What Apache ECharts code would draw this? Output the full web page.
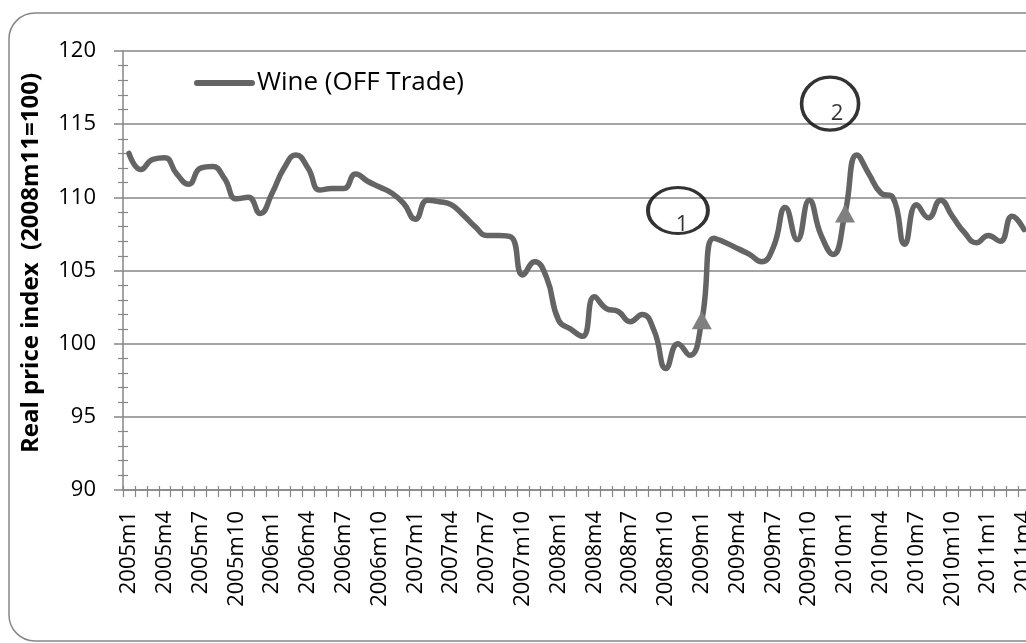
<!DOCTYPE html>
<html>
<head>
<meta charset="utf-8">
<script src="https://cdn.jsdelivr.net/npm/echarts@6/dist/echarts.min.js"></script>
<style>
html,body{margin:0;padding:0;background:#fff;}
#chart{width:1026px;height:643px;}
</style>
</head>
<body>
<div id="chart"></div>
<script>
// ---- data ----
const years = [2005, 2006, 2007, 2008, 2009, 2010, 2011];
const categories = [];
years.forEach(function (y) {
  for (let m = 1; m <= 12; m++) {
    if (y === 2011 && m > 4) break;
    categories.push(y + 'm' + m);
  }
});
const seriesName = 'Wine (OFF Trade)';
const wineValues = [
  113.0, 111.9, 112.6, 112.7, 111.6, 110.9, 112.0, 112.1, 111.3, 109.9, 110.0, 108.9,
  110.3, 112.0, 112.9, 112.0, 110.5, 110.6, 110.6, 111.6, 111.1, 110.7, 110.3, 109.6,
  108.5, 109.8, 109.7, 109.5, 108.8, 108.0, 107.4, 107.4, 107.3, 104.7, 105.6, 104.5,
  101.6, 101.0, 100.5, 103.2, 102.4, 102.2, 101.5, 102.0, 100.9, 98.3, 100.0, 99.2,
  101.6, 107.2, 106.9, 106.5, 106.1, 105.6, 106.6, 109.3, 107.1, 109.8, 107.4, 106.1,
  108.9, 112.9, 111.6, 110.3, 110.0, 106.8, 109.5, 108.6, 109.8, 108.7, 107.6, 106.9,
  107.4, 107.0, 108.7, 107.8
];
const markerCats = ['2009m1', '2010m1'];
const annoCats = ['2008m11', '2009m12'];
const annoValues = [109.1, 116.4];
const annoLabels = ['1', '2'];
const yMin = 90, yMax = 120, yStep = 5;

// ---- chart ----
const FONT = '"Open Sans", sans-serif';
const GRAY = '#868686';
const chart = echarts.init(document.getElementById('chart'), null, {renderer: 'canvas'});

const markerData = markerCats.map(function (c) {
  return [c, wineValues[categories.indexOf(c)]];
});
const annoStyle = [
  {size: [60, 46], offset: [0, 0], labelOffset: [4, 14]},
  {size: [57, 53], offset: [-3, 0], labelOffset: [7, 10]}
];
const annoData = annoCats.map(function (c, i) {
  return {
    value: [c, annoValues[i]],
    symbolSize: annoStyle[i].size,
    symbolOffset: annoStyle[i].offset,
    label: {formatter: annoLabels[i], offset: annoStyle[i].labelOffset}
  };
});

chart.setOption({
  backgroundColor: '#fff',
  animation: false,
  graphic: [{
    type: 'rect', z: -10, silent: true,
    shape: {x: 9, y: 13, width: 1060, height: 628, r: 26},
    style: {fill: '#fff', stroke: GRAY, lineWidth: 1.5}
  }],
  grid: {left: 123, top: 51, width: 907, height: 439, containLabel: false, outerBoundsMode: 'none'},
  legend: {
    data: [seriesName],
    left: 189, top: 65,
    itemWidth: 55, itemHeight: 14,
    lineStyle: {width: 6, color: '#646464', cap: 'round'},
    itemStyle: {color: 'rgba(0,0,0,0)', borderWidth: 0},
    textStyle: {fontFamily: FONT, fontSize: 26, color: '#000'}
  },
  xAxis: [{
    type: 'category', data: categories, boundaryGap: true,
    axisLine: {lineStyle: {color: GRAY, width: 1.5}},
    axisTick: {show: true, interval: 0, length: 7, lineStyle: {color: GRAY, width: 1.2}},
    axisLabel: {interval: 2, rotate: 90, margin: 21, fontFamily: FONT, fontSize: 22, color: '#000'},
    splitLine: {show: false}
  }, {
    type: 'category', data: categories, boundaryGap: true, position: 'bottom',
    axisLine: {show: false},
    axisTick: {show: true, interval: 0, inside: true, length: 4, lineStyle: {color: GRAY, width: 1.2}},
    axisLabel: {show: false},
    splitLine: {show: false}
  }],
  yAxis: [{
    type: 'value', min: yMin, max: yMax, interval: yStep,
    name: 'Real price index  (2008m11=100)',
    nameLocation: 'middle', nameRotate: 90, nameGap: 80,
    nameTextStyle: {fontFamily: FONT, fontSize: 24, fontWeight: 'bold', color: '#000', padding: [0, 0, 0, 15]},
    axisLine: {show: true, lineStyle: {color: GRAY, width: 1.5}},
    axisTick: {show: true, length: 9, lineStyle: {color: GRAY, width: 1.5}},
    minorTick: {show: true, splitNumber: 5, length: 5, lineStyle: {color: GRAY, width: 1.2}},
    axisLabel: {margin: 27, fontFamily: FONT, fontSize: 22, color: '#000'},
    splitLine: {show: true, lineStyle: {color: GRAY, width: 1.5}}
  }, {
    type: 'value', min: yMin, max: yMax, interval: yStep, position: 'left',
    axisLine: {show: false},
    axisTick: {show: false, inside: true, length: 5},
    minorTick: {show: true, splitNumber: 5, length: 5, lineStyle: {color: GRAY, width: 1.2}},
    axisLabel: {show: false},
    splitLine: {show: false}
  }],
  series: [{
    name: seriesName, type: 'line', data: wineValues,
    smooth: 0.5, symbol: 'none',
    lineStyle: {color: '#646464', width: 5.5, cap: 'round', join: 'round'},
    itemStyle: {color: '#646464'},
    z: 3
  }, {
    name: 'markers', type: 'scatter', data: markerData,
    symbol: 'triangle', symbolSize: [20, 18],
    itemStyle: {color: '#808080', opacity: 1},
    z: 4
  }, {
    name: 'annotations', type: 'scatter', data: annoData,
    symbol: 'circle',
    itemStyle: {color: 'rgba(0,0,0,0)', borderColor: '#000', borderWidth: 3.5},
    label: {show: true, position: 'inside', fontFamily: FONT, fontSize: 22, color: '#000'},
    z: 5
  }]
});
</script>
</body>
</html>
